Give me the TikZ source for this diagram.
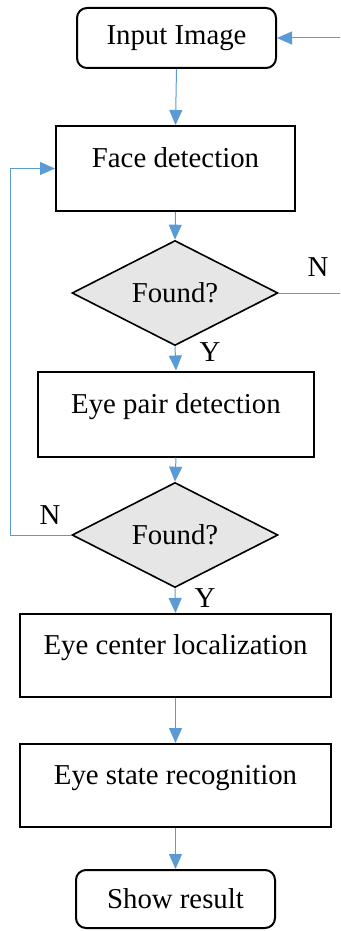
\documentclass[tikz,border=0pt]{standalone}
\usepackage{fontspec}
\setmainfont{Liberation Serif}
\newfontfamily\tnr{Liberation Serif}
\usetikzlibrary{shapes.geometric,arrows.meta}
\definecolor{lineblue}{RGB}{91,155,213}
\definecolor{dgray}{RGB}{230,230,230}
\begin{document}
\begin{tikzpicture}[x=1pt,y=-1pt,
  every node/.style={font=\tnr\fontsize{28.8}{34}\selectfont},
  roundbox/.style={draw=black,line width=2pt,rounded corners=10pt,inner sep=0pt},
  procbox/.style={draw=black,line width=2pt,inner sep=0pt,text height=41.5pt,text depth=43.5pt,minimum height=85pt},
  decide/.style={diamond,draw=black,line width=1.6pt,fill=dgray,aspect=2,inner sep=0pt,minimum width=206pt,minimum height=105pt},
  flow/.style={draw=lineblue,line width=1pt,-{Triangle[length=15pt,width=13pt]}},
  plainflow/.style={draw=lineblue,line width=1pt},
  lbl/.style={inner sep=0pt}]
\useasboundingbox (0,0) rectangle (340,931);
\node[roundbox,minimum width=199pt,minimum height=60pt] (input) at (176.5,38) {Input Image};
\node[procbox,minimum width=239pt] (face) at (175.5,168.5) {Face detection};
\node[decide] (d1) at (175,293) {Found?};
\node[procbox,minimum width=276pt] (pair) at (176,414) {Eye pair detection};
\node[decide] (d2) at (175,535) {Found?};
\node[procbox,minimum width=311pt,minimum height=83pt,text height=40.5pt,text depth=42.5pt] (center) at (175.5,655.5) {Eye center localization};
\node[procbox,minimum width=311pt,minimum height=83pt,text height=40.5pt,text depth=42.5pt] (state) at (175.5,785.5) {Eye state recognition};
\node[roundbox,minimum width=199pt,minimum height=58pt] (show) at (175.5,899) {Show result};
\coordinate (r0) at (340,38);
\coordinate (r1) at (340,293);
\coordinate (lc) at (10,535);
\draw[flow] (input.south) -- (face.north);
\draw[flow] (face.south) -- (d1.north);
\draw[flow] (d1.south) -- (pair.north);
\draw[flow] (pair.south) -- (d2.north);
\draw[flow] (d2.south) -- (center.north);
\draw[flow] (center.south) -- (state.north);
\draw[flow] (state.south) -- (show.north);
\draw[plainflow] (d1.east) -- (r1);
\draw[flow] (r0) -- (input.east);
\draw[flow] (d2.west) -- (lc) |- (face.west);
\node[lbl] (n1) at (318,267) {N};
\node[lbl] (y1) at (210,352) {Y};
\node[lbl] (n2) at (50,515) {N};
\node[lbl] (y2) at (205,598) {Y};
\end{tikzpicture}
\end{document}
